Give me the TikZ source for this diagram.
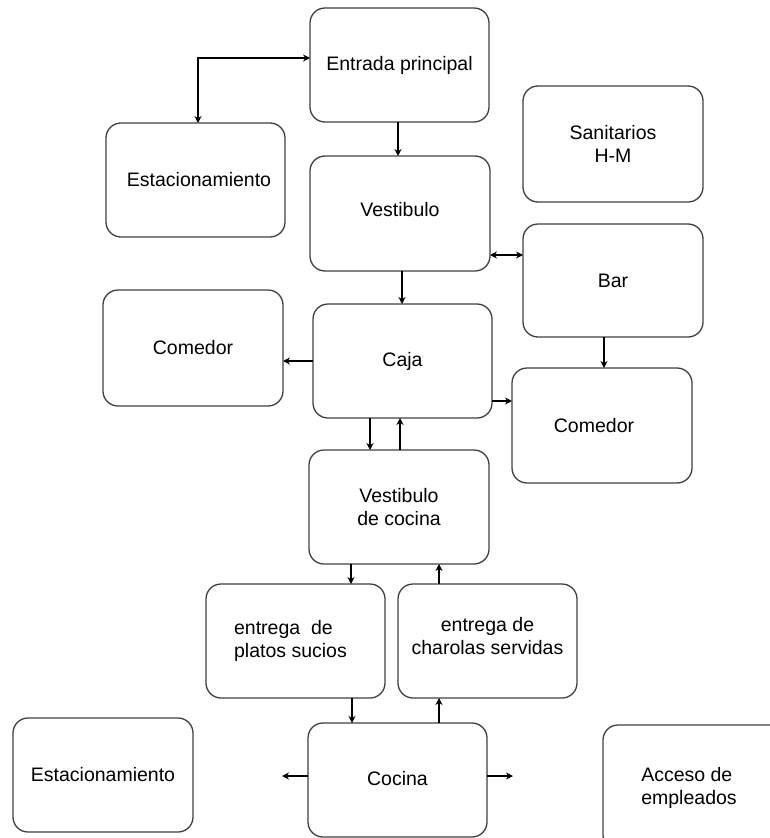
\documentclass[tikz,border=0pt]{standalone}
\usepackage{fontspec}
\setmainfont{Liberation Sans}
\usetikzlibrary{arrows.meta}
\begin{document}
\begin{tikzpicture}[x=1bp,y=-1bp,
  area/.style={draw=black!75,line width=1.3bp,rounded corners=15bp,
    inner sep=0pt,outer sep=0pt,align=center,
    minimum width=179bp,minimum height=114bp,
    font=\fontsize{19.5bp}{23bp}\selectfont},
  tip/.tip={Stealth[length=7bp,width=7bp]},
  flow/.style={line width=1.9bp,-tip},
  both/.style={line width=1.9bp,tip-tip}]
\useasboundingbox (0,0) rectangle (770,838);
\begin{scope}
\clip (0,0) rectangle (770,838);
% the rooms
\node[area] (entrada) at (399.5,65) {Entrada principal};
\node[area] (est1) at (195.5,180) {\hspace*{7bp}\raisebox{-3bp}{Estacionamiento}};
\node[area,minimum width=180bp,minimum height=116bp] (sanit) at (613,144) {Sanitarios\\H-M};
\node[area,minimum width=180bp,minimum height=115bp] (vest) at (400,213.5) {Vestibulo\\[-14bp]\mbox{}};
\node[area,minimum width=180bp,minimum height=113bp] (bar) at (613,280.5) {Bar};
\node[area,minimum width=180bp,minimum height=116bp] (com1) at (193,348) {Comedor};
\node[area] (caja) at (402.5,361) {Caja};
\node[area,minimum width=180bp,minimum height=115bp] (com2) at (602,425.5) {Comedor\hspace*{16bp}};
\node[area,minimum width=180bp] (vdc) at (399,507) {Vestibulo\\de cocina};
\node[area,align=left] (platos) at (295.5,641) {entrega\ \ de\\platos sucios\hspace*{10bp}};
\node[area] (charolas) at (487.5,641) {entrega de\\charolas servidas\\[-12bp]\mbox{}};
\node[area] (cocina) at (397.5,780) {\raisebox{3bp}{Cocina}};
\node[area,minimum width=180bp] (est2) at (103,775) {Estacionamiento};
\node[area,align=left,minimum width=182bp,minimum height=125bp] (acceso) at (694,787.5) {Acceso de\\empleados\hspace*{10bp}};
\end{scope}
% flows between the rooms
\draw[both] ([xshift=2.5bp]est1.north) |- ([yshift=7bp]entrada.west);
\draw[flow] ([xshift=-1.5bp]entrada.south) -- ([xshift=-1.5bp]entrada.south |- vest.north);
\draw[both] ([yshift=-41.5bp]vest.east) -- ([yshift=-41.5bp]vest.east -| bar.west);
\draw[flow] ([xshift=2bp]vest.south) -- ([xshift=2bp]vest.south |- caja.north);
\draw[flow] (caja.west) -- (caja.west -| com1.east);
\draw[flow] ([yshift=-40bp]caja.east) -- ([yshift=-40bp]caja.east -| com2.west);
\draw[flow] ([xshift=-9bp]bar.south) -- ([xshift=-9bp]bar.south |- com2.north);
\draw[flow] ([xshift=-32.5bp]caja.south) -- ([xshift=-32.5bp]caja.south |- vdc.north);
\draw[flow] ([xshift=1bp]vdc.north) -- ([xshift=1bp]vdc.north |- caja.south);
\draw[flow] ([xshift=-48bp]vdc.south) -- ([xshift=-48bp]vdc.south |- platos.north);
\draw[flow] ([xshift=-48.5bp]charolas.north) -- ([xshift=-48.5bp]charolas.north |- vdc.south);
\draw[flow] ([xshift=56.5bp]platos.south) -- ([xshift=56.5bp]platos.south |- cocina.north);
\draw[flow] ([xshift=41.5bp]cocina.north) -- ([xshift=41.5bp]cocina.north |- charolas.south);
\coordinate (outL) at ([xshift=-26bp,yshift=4bp]cocina.west);
\coordinate (outR) at ([xshift=26bp,yshift=4bp]cocina.east);
\draw[flow] ([yshift=4bp]cocina.west) -- (outL);
\draw[flow] ([yshift=4bp]cocina.east) -- (outR);
\end{tikzpicture}
\end{document}
